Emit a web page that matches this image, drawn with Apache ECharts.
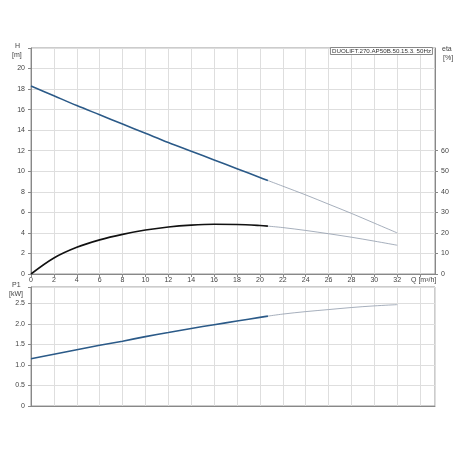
<!DOCTYPE html>
<html>
<head>
<meta charset="utf-8">
<script src="https://cdn.jsdelivr.net/npm/echarts@6/dist/echarts.min.js"></script>
<style>
  html, body { margin: 0; padding: 0; background: #fff; }
  #chart { width: 460px; height: 460px; }
</style>
</head>
<body>
<div id="chart"></div>
<script>
// flow Q [m3/h], solid part (operating range) and thin extension
const qMain = [0, 2, 4, 6, 8, 10, 12, 14, 16, 18, 20, 20.7]
const qExt = [20.7, 22, 24, 26, 28, 30, 32]
// head H [m]
const headMain = [18.3, 17.35, 16.4, 15.5, 14.6, 13.7, 12.8, 11.95, 11.1, 10.25, 9.4, 9.1]
const headExt = [9.1, 8.55, 7.7, 6.8, 5.9, 4.95, 4.0]
// efficiency eta [%]
const etaMain = [0, 7.8, 13.0, 16.6, 19.3, 21.4, 22.9, 23.8, 24.2, 24.1, 23.6, 23.3]
const etaExt = [23.3, 22.6, 21.2, 19.6, 17.9, 16.0, 14.0]
// power P1 [kW]
const powerMain = [1.15, 1.26, 1.37, 1.48, 1.58, 1.69, 1.79, 1.89, 1.98, 2.07, 2.16, 2.19]
const powerExt = [2.19, 2.24, 2.30, 2.35, 2.40, 2.44, 2.47]
const etaTicks = [0, 10, 20, 30, 40, 50, 60]

const pairs = (xs, ys) => xs.map((x, i) => [x, ys[i]])

const font = 'Liberation Sans'
const labelFont = { fontSize: 7, color: '#444', fontFamily: font }
const gridLine = { show: true, lineStyle: { color: '#dedede', width: 1 } }
const axisLine = { show: true, onZero: false, lineStyle: { color: '#888', width: 1 } }

const lineSeries = (xAxisIndex, yAxisIndex, data, color, width) => ({
  type: 'line',
  xAxisIndex: xAxisIndex,
  yAxisIndex: yAxisIndex,
  data: data,
  smooth: 0.35,
  showSymbol: false,
  silent: true,
  lineStyle: { color: color, width: width }
})

const label = (text, left, top) => ({
  type: 'text', left: left, top: top,
  style: { text: text, fontSize: 7, fill: '#444', fontFamily: font }
})

let myChart = echarts.init(document.getElementById('chart'))
myChart.setOption({
  animation: false,
  title: {
    text: 'DUOLIFT.270.AP50B.50.15.3. 50Hz',
    right: 27,
    top: 47,
    padding: [1, 2],
    borderColor: '#888',
    borderWidth: 1,
    backgroundColor: '#fff',
    textStyle: { fontSize: 6.2, fontWeight: 'normal', color: '#333', fontFamily: font }
  },
  grid: [
    { left: 31, right: 25, top: 48, bottom: 186, show: true, borderColor: '#999', borderWidth: 1 },
    { left: 31, right: 25, top: 287, bottom: 54, show: true, borderColor: '#999', borderWidth: 1 }
  ],
  xAxis: [
    {
      type: 'value',
      gridIndex: 0,
      min: 0,
      max: 35.3,
      interval: 2,
      axisLine: axisLine,
      axisTick: { show: true, length: 3, lineStyle: { color: '#888' } },
      axisLabel: Object.assign({ margin: 3, showMaxLabel: false, formatter: v => (v <= 32 ? v : '') }, labelFont),
      splitLine: gridLine
    },
    {
      type: 'value',
      gridIndex: 1,
      min: 0,
      max: 35.3,
      interval: 2,
      axisLine: axisLine,
      axisTick: { show: false },
      axisLabel: { show: false },
      splitLine: gridLine
    }
  ],
  yAxis: [
    {
      type: 'value',
      gridIndex: 0,
      min: 0,
      max: 22,
      interval: 2,
      axisLine: axisLine,
      axisTick: { show: true, length: 3, lineStyle: { color: '#888' } },
      axisLabel: Object.assign({ margin: 6, formatter: v => (v <= 20 ? v : '') }, labelFont),
      splitLine: gridLine
    },
    {
      type: 'value',
      gridIndex: 0,
      position: 'right',
      min: 0,
      max: 110,
      interval: 10,
      axisLine: axisLine,
      axisTick: { show: true, length: 3, customValues: etaTicks, lineStyle: { color: '#888' } },
      axisLabel: Object.assign({ margin: 6, customValues: etaTicks }, labelFont),
      splitLine: { show: false }
    },
    {
      type: 'value',
      gridIndex: 1,
      min: 0,
      max: 2.9,
      interval: 0.5,
      axisLine: axisLine,
      axisTick: { show: true, length: 3, lineStyle: { color: '#888' } },
      axisLabel: Object.assign({ margin: 6, formatter: v => (v === 0 ? '0' : (v <= 2.5 ? v.toFixed(1) : '')) }, labelFont),
      splitLine: gridLine
    }
  ],
  graphic: [
    label('H', 15, 43),
    label('[m]', 12, 52),
    label('eta', 442, 46),
    label('[%]', 443, 55),
    label('P1', 12, 282),
    label('[kW]', 9, 291),
    label('Q [m³/h]', 411, 277)
  ],
  series: [
    lineSeries(0, 0, pairs(qExt, headExt), '#8f9bab', 0.8),
    lineSeries(0, 1, pairs(qExt, etaExt), '#8f9bab', 0.8),
    lineSeries(1, 2, pairs(qExt, powerExt), '#8f9bab', 0.8),
    lineSeries(0, 0, pairs(qMain, headMain), '#2b5a88', 1.6),
    lineSeries(0, 1, pairs(qMain, etaMain), '#111111', 1.6),
    lineSeries(1, 2, pairs(qMain, powerMain), '#2b5a88', 1.6)
  ]
})
</script>
</body>
</html>
